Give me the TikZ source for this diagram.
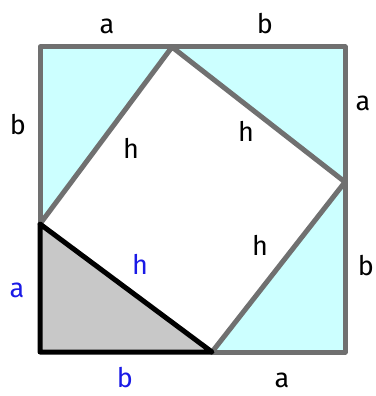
\documentclass[tikz,border=0pt]{standalone}
\usepackage{fontspec}
\setmainfont{Fira Sans}
\usepackage{tikz}
\usetikzlibrary{calc}
\definecolor{EdgeGrey}{HTML}{707070}
\definecolor{PaleCyan}{HTML}{CCFFFF}
\definecolor{ShadeGrey}{HTML}{C8C8C8}
\definecolor{LabelBlue}{HTML}{1A1AE6}

\begin{document}
\begin{tikzpicture}[x=1pt, y=-1pt, line join=round, line cap=round,
    greyedge/.style={line width=5pt, EdgeGrey},
    blackedge/.style={line width=5pt, black},
    lbl/.style={font=\fontsize{27}{30}\selectfont, inner sep=0pt},
    bluelbl/.style={lbl, LabelBlue}]
    \useasboundingbox (0,0) rectangle (375,396);
    % corners of the outer square and of the tilted square
    \coordinate (TL) at (40,47);
    \coordinate (TR) at (345,47);
    \coordinate (BR) at (345,352);
    \coordinate (BL) at (40,352);
    \coordinate (T) at (172,47);
    \coordinate (R) at (345,182);
    \coordinate (B) at (212,352);
    \coordinate (L) at (40,224);
    % the four triangles
    \fill[PaleCyan] (TL) -- (T) -- (L) -- cycle;
    \fill[PaleCyan] (T) -- (TR) -- (R) -- cycle;
    \fill[PaleCyan] (R) -- (BR) -- (B) -- cycle;
    \fill[ShadeGrey] (L) -- (BL) -- (B) -- cycle;
    \draw[greyedge] (L) -- (TL) -- (TR) -- (BR) -- (B);
    \draw[greyedge] (L) -- (T) -- (R) -- (B);
    \draw[blackedge] (L) -- (BL) -- (B) -- cycle;
    % side labels
    \node[lbl] (topa) at (107,26) {a};
    \node[lbl] (topb) at (265,24) {b};
    \node[lbl] (lefb) at (18,125) {b};
    \node[lbl] (riga) at (363,103) {a};
    \node[lbl] (rigb) at (366,266) {b};
    \node[lbl] (bota) at (282,380) {a};
    \node[bluelbl] (lefa) at (17,290) {a};
    \node[bluelbl] (botb) at (125,378) {b};
    % hypotenuse labels
    \node[lbl] (h1) at (131,148) {h};
    \node[lbl] (h2) at (246,131) {h};
    \node[lbl] (h3) at (260,245) {h};
    \node[bluelbl] (h4) at (140,264) {h};
  \end{tikzpicture}
\end{document}
